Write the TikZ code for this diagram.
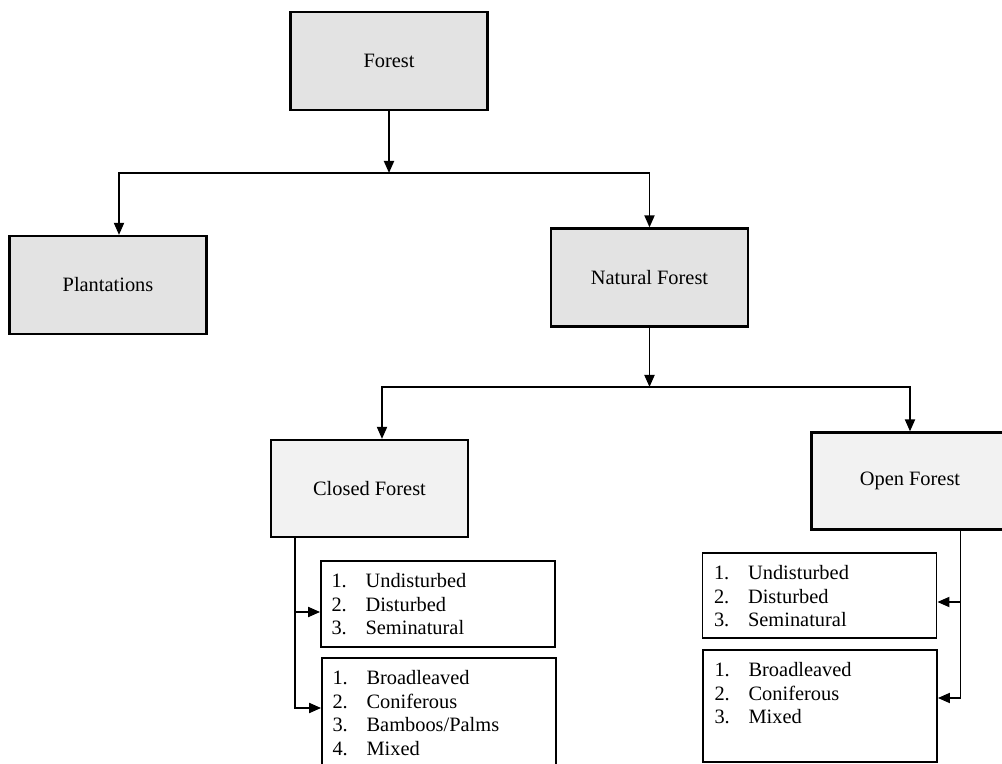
\documentclass[tikz,border=0pt]{standalone}
\usepackage{fontspec}
\setmainfont{Liberation Serif}
\usetikzlibrary{arrows.meta,positioning}

\begin{document}
\begin{tikzpicture}[x=0.5pt,y=-0.5pt,
  every node/.style={font=\fontsize{10.2}{11.75}\selectfont},
  topbox/.style={draw,line width=1.1pt,fill=gray!22,minimum width=98.5pt,minimum height=49pt,inner sep=0pt},
  subbox/.style={draw,line width=1.1pt,fill=gray!10,minimum width=98.5pt,minimum height=48.5pt,inner sep=0pt},
  listbox/.style={draw,line width=0.9pt,minimum width=117pt,inner sep=0pt},
  listtext/.style={inner sep=0pt,align=left},
  arr/.style={line width=0.9pt,-{Triangle[length=6pt,width=5pt]}}]
  \useasboundingbox (0,0) rectangle (1002,764);
  \clip (0,0) rectangle (1002,764);
  \node [topbox] (forest) at (389,61) {Forest};
  \node [topbox] (plant) at (108,285) {Plantations};
  \node [topbox] (natural) at (649.5,277.5) {Natural Forest};
  \node [subbox] (closed) at (369.5,488.5) {Closed Forest};
  \node [subbox] (open) at (910,481) {Open Forest};
  \node [listbox,minimum height=43pt] (cfa) at (438,604) {};
  \node [listbox,minimum height=56pt] (cfb) at (439,714) {};
  \node [listbox,minimum height=42.5pt] (ofa) at (819.5,595.5) {};
  \node [listbox,minimum height=56pt] (ofb) at (820,706) {};
  \node [listtext,below right=5.5pt and 5.5pt of cfa.north west] (cfa-txt)
    {\begin{tabular}{@{}l@{\hspace{9.4pt}}l@{}}1. & Undisturbed\\ 2. & Disturbed\\ 3. & Seminatural\end{tabular}};
  \node [listtext,below right=5.5pt and 5.5pt of cfb.north west] (cfb-txt)
    {\begin{tabular}{@{}l@{\hspace{9.4pt}}l@{}}1. & Broadleaved\\ 2. & Coniferous\\ 3. & Bamboos/Palms\\ 4. & Mixed\end{tabular}};
  \node [listtext,below right=5.5pt and 6pt of ofa.north west] (ofa-txt)
    {\begin{tabular}{@{}l@{\hspace{9.4pt}}l@{}}1. & Undisturbed\\ 2. & Disturbed\\ 3. & Seminatural\end{tabular}};
  \node [listtext,below right=5.5pt and 6pt of ofb.north west] (ofb-txt)
    {\begin{tabular}{@{}l@{\hspace{9.4pt}}l@{}}1. & Broadleaved\\ 2. & Coniferous\\ 3. & Mixed\end{tabular}};
  \coordinate (j1) at (forest.south |- 0,173);
  \coordinate (j2) at (natural.south |- 0,387);
  \draw [arr] (forest) -- (j1);
  \draw [arr] (j1) -| ([xshift=5.5pt]plant.north);
  \draw [arr] (j1) -| (natural.north);
  \draw [arr] (natural) -- (j2);
  \draw [arr] (j2) -| ([xshift=6.25pt]closed.north);
  \draw [arr] (j2) -| (open.north);
  \draw [arr] ([xshift=12.5pt]closed.south west) |- ([yshift=-4pt]cfa.west);
  \draw [arr] ([xshift=12.5pt]closed.south west) |- ([yshift=3pt]cfb.west);
  \draw [arr] ([xshift=75pt]open.south west) |- ([yshift=-3.25pt]ofa.east);
  \draw [arr] ([xshift=75pt]open.south west) |- ([yshift=4pt]ofb.east);
\end{tikzpicture}
\end{document}
